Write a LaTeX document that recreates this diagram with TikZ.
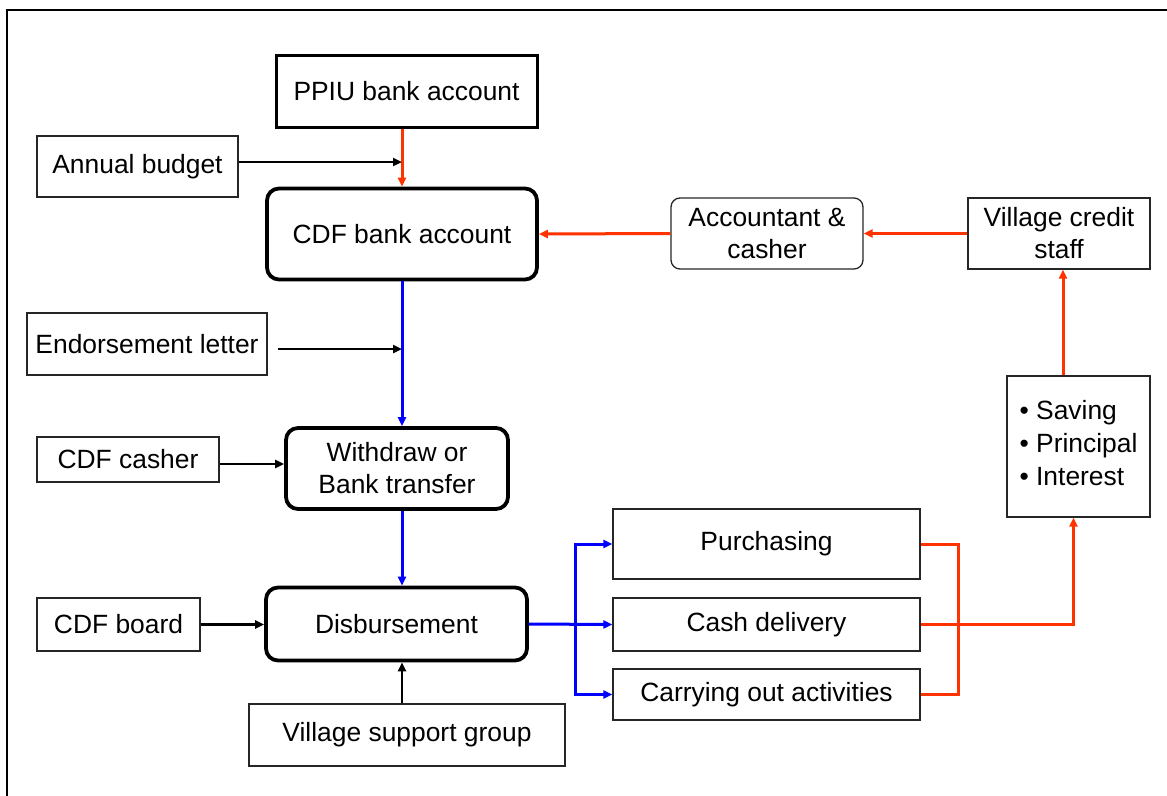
\documentclass[tikz,border=0pt]{standalone}
\usepackage{fontspec}
\setmainfont{Liberation Sans}
\usetikzlibrary{arrows.meta}
\definecolor{flowred}{RGB}{255,51,0}
\definecolor{flowblue}{RGB}{0,0,255}
\tikzset{
  thinbox/.style={draw=black!85, line width=1.3pt, align=center, inner sep=0pt},
  thickbox/.style={draw=black, line width=3.8pt, rounded corners=12pt, align=center, inner sep=0pt},
  squarethick/.style={draw=black, line width=3pt, align=center, inner sep=0pt},
  softbox/.style={draw=black!85, line width=1.3pt, rounded corners=9pt, align=center, inner sep=0pt},
  tip/.style={-{Triangle[length=9pt,width=8pt]}},
  redline/.style={draw=flowred, line width=3pt},
  blueline/.style={draw=flowblue, line width=3pt},
  blackline/.style={draw=black, line width=2.6pt}
}
\begin{document}
\begin{tikzpicture}[x=1pt,y=-1pt,font=\fontsize{26.4}{32}\selectfont]
\useasboundingbox (0,0) rectangle (1167,795);
% outer frame (only top and left edges visible)
\draw[line width=2pt] (7,800) -- (7,10) -- (1175,10);

\node[squarethick, minimum width=261pt, minimum height=72pt] (ppiu) at (406.5,91) {PPIU bank account};
\node[thinbox, minimum width=201pt, minimum height=61pt] (annual) at (137.5,166.5) {Annual budget};
\node[thickbox, minimum width=270pt, minimum height=91pt] (cdf) at (402,234) {CDF bank account};
\node[softbox, minimum width=192pt, minimum height=71pt] (acct) at (767,233.5) {Accountant \&\\casher};
\node[thinbox, minimum width=182pt, minimum height=71pt] (vcs) at (1059,233.5) {Village credit\\staff};
\node[thinbox, minimum width=240pt, minimum height=62pt] (endorse) at (147,344) {Endorsement letter};
\node[thinbox, minimum width=182pt, minimum height=45pt] (casher) at (128,459.5) {CDF casher};
\node[thickbox, minimum width=222pt, minimum height=81pt] (withdraw) at (397,468.5) {Withdraw or\\Bank transfer};
\node[thinbox, minimum width=143pt, minimum height=141pt] (bul) at (1078.5,446.5)
  {\begin{tabular}{@{}l@{}}• Saving\\[1pt]• Principal\\[1pt]• Interest\end{tabular}};
\node[thinbox, minimum width=307pt, minimum height=70pt] (purch) at (766.5,544) {Purchasing};
\node[thinbox, minimum width=307pt, minimum height=53pt] (cash) at (766.5,624.5) {Cash delivery};
\node[thinbox, minimum width=307pt, minimum height=51pt] (carry) at (766.5,694.5) {Carrying out activities};
\node[thickbox, minimum width=261pt, minimum height=73pt] (disb) at (396.5,624) {Disbursement};
\node[thinbox, minimum width=163pt, minimum height=53pt] (board) at (118.5,624.5) {CDF board};
\node[thinbox, minimum width=316pt, minimum height=62pt] (vsg) at (407,735) {Village support group};

\coordinate (br) at (575,624);
\coordinate (rj) at (958,624);

% red flows
\draw[redline, tip] (cdf.north |- ppiu.south) -- (cdf.north);
\draw[redline, tip] (acct.west) -- (cdf.east);
\draw[redline, tip] (vcs.west) -- (acct.east);
\draw[redline, tip] ([xshift=4pt]vcs.south |- bul.north) -- ([xshift=4pt]vcs.south);
\draw[redline] (purch.east) -| (rj) |- (carry.east);
\draw[redline, tip] (cash.east) -| ([xshift=-5pt]bul.south);

% blue flows
\draw[blueline, tip] (cdf.south) -- (cdf.south |- withdraw.north);
\draw[blueline, tip] (cdf.south |- withdraw.south) -- (cdf.south |- disb.north);
\draw[blueline, tip] (disb.east) -- (cash.west);
\draw[blueline, {Triangle[length=9pt,width=8pt]}-{Triangle[length=9pt,width=8pt]}] (purch.west) -| (br) |- (carry.west);

% black inputs
\draw[blackline, tip] ([yshift=4.5pt]annual.east) -- ([yshift=4.5pt]annual.east -| cdf.north);
\draw[blackline, tip] ([xshift=10pt,yshift=-5pt]endorse.east) -- ([yshift=-5pt]endorse.east -| cdf.south);
\draw[blackline, tip] ([yshift=-4.5pt]casher.east) -- ([yshift=-4.5pt]casher.east -| withdraw.west);
\draw[blackline, tip] (board.east) -- (board.east -| disb.west);
\draw[blackline, tip] (cdf.south |- vsg.north) -- (cdf.south |- disb.south);
\end{tikzpicture}
\end{document}
